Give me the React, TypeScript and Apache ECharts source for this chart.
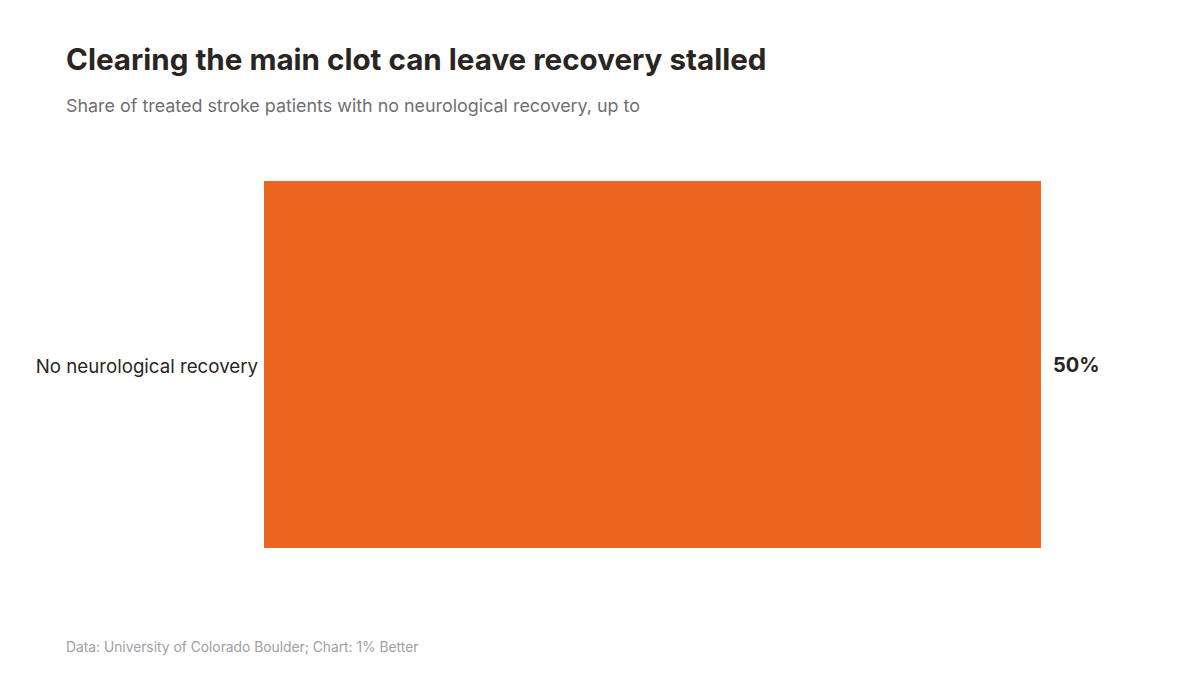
import React, { useEffect, useRef } from "react";
import * as echarts from "echarts";

const categories = ["No neurological recovery"];
const values = [50];
const titleText = "Clearing the main clot can leave recovery stalled";
const subtitleText = "Share of treated stroke patients with no neurological recovery, up to";
const footerText = "Data: University of Colorado Boulder; Chart: 1% Better";

export default function App() {
  const ref = useRef<HTMLDivElement>(null);
  useEffect(() => {
    if (!ref.current) return;
    const chart = echarts.init(ref.current, null, { renderer: "svg" });
    const font = "Inter, 'Noto Sans', sans-serif";
    chart.setOption({
      animation: false,
      backgroundColor: "#ffffff",
      textStyle: { fontFamily: font },
      title: [
        {
          text: titleText,
          left: 61,
          top: 39,
          textStyle: { fontFamily: font, fontSize: 29.6, fontWeight: 700, color: "#2a2522" },
        },
        {
          text: subtitleText,
          left: 61,
          top: 91,
          textStyle: { fontFamily: font, fontSize: 17.9, fontWeight: 400, color: "#6f6f73" },
        },
        {
          text: footerText,
          left: 61,
          top: 635,
          textStyle: { fontFamily: font, fontSize: 13.8, fontWeight: 400, color: "#a0a0a4" },
        },
      ],
      grid: { left: 264, right: 159, top: 181, bottom: 127, containLabel: false },
      xAxis: {
        type: "value",
        min: 0,
        max: 50,
        show: false,
      },
      yAxis: {
        type: "category",
        data: categories,
        axisLine: { show: false },
        axisTick: { show: false },
        axisLabel: {
          fontFamily: font,
          fontSize: 18.7,
          color: "#2a2522",
          margin: 6,
          verticalAlign: "top",
          padding: [-8, 0, 0, 0],
        },
      },
      series: [
        {
          type: "bar",
          data: values,
          barWidth: "100%",
          itemStyle: { color: "#ec6520" },
          label: {
            show: true,
            position: "right",
            distance: 12,
            formatter: "{c}%",
            fontFamily: font,
            fontSize: 20,
            fontWeight: 700,
            color: "#2a2522",
          },
        },
      ],
    });
    return () => chart.dispose();
  }, []);
  return (
    <div
      ref={ref}
      style={{ position: "fixed", left: 0, top: 0, width: 1200, height: 675 }}
    />
  );
}
